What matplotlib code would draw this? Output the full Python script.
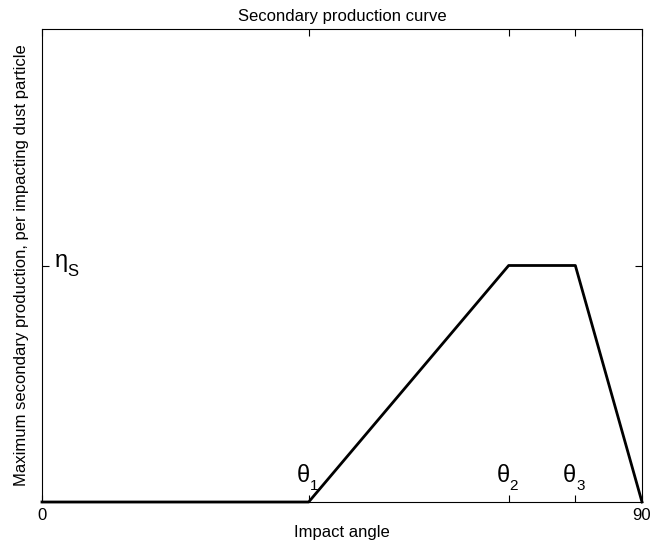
import numpy as np
import matplotlib.pyplot as plt
from matplotlib.transforms import offset_copy

plt.rcParams['font.family'] = ['Liberation Sans', 'DejaVu Sans']

# piecewise secondary production curve
angle = [0, 40, 70, 80, 90]
production = [0, 0, 1, 1, 0]
eta_s = 1.0

tick_pos = [0, 40, 70, 80, 90]
tick_labels = ['0', '', '', '', '90']
theta_pos = [40, 70, 80]
theta_subs = ['1', '2', '3']

fig = plt.figure(figsize=(6.63, 5.41), dpi=100)
ax = fig.add_axes([42 / 663, 1 - 502 / 541, 600 / 663, 473 / 541])

ax.plot(angle, production, color='black', linewidth=2, clip_on=False, zorder=3)

ax.set_xlim(0, 90)
ax.set_ylim(0, 2 * eta_s)
ax.set_xticks(tick_pos)
ax.set_xticklabels(tick_labels, fontsize=12)
ax.set_yticks([eta_s])
ax.set_yticklabels([''])
ax.tick_params(direction='in', top=True, right=True, length=5, width=0.8, pad=4)
for s in ax.spines.values():
    s.set_linewidth(0.8)

# theta labels just above the ticks, with small subscripts
for x, sub in zip(theta_pos, theta_subs):
    tr = offset_copy(ax.transData, fig=fig, x=1, y=20, units='dots')
    ax.text(x, 0, 'θ', fontsize=17, ha='right', va='baseline', transform=tr)
    tr2 = offset_copy(ax.transData, fig=fig, x=1, y=12, units='dots')
    ax.text(x, 0, sub, fontsize=11, ha='left', va='baseline', transform=tr2)

tr = offset_copy(ax.transData, fig=fig, x=13, y=-2, units='dots')
ax.text(0, eta_s, 'η', fontsize=17, ha='left', va='baseline', transform=tr)
tr2 = offset_copy(ax.transData, fig=fig, x=25, y=-11, units='dots')
ax.text(0, eta_s, 'S', fontsize=12, ha='left', va='baseline', transform=tr2)

ax.set_title('Secondary production curve', fontsize=12, pad=6)
ax.set_xlabel('Impact angle', fontsize=12, labelpad=2)
ax.set_ylabel('Maximum secondary production, per impacting dust particle', fontsize=12, labelpad=5)

fig.savefig('out.png', dpi=100)
